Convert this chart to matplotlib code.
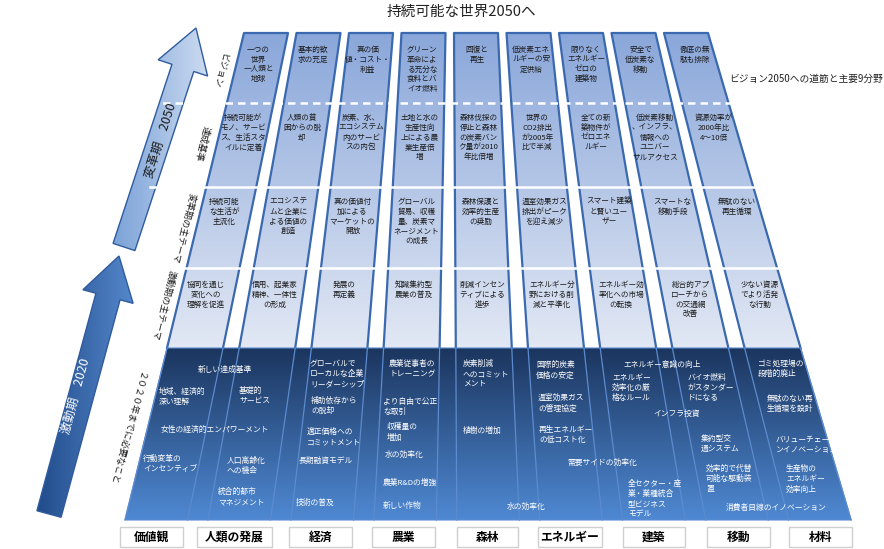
import numpy as np
import matplotlib
matplotlib.use('Agg')
import matplotlib.pyplot as plt
from matplotlib.patches import Polygon, Rectangle
from matplotlib.colors import LinearSegmentedColormap

plt.rcParams['font.family'] = ['Noto Sans CJK JP', 'DejaVu Sans']

# ---- content ----
title = '持続可能な世界2050へ'
subtitle = 'ビジョン2050への道筋と主要9分野'
sectors = ['価値観', '人類の発展', '経済', '農業', '森林', 'エネルギー', '建築', '移動', '材料']
row_labels = ['ビジョン', '達成基準', '変革期の主テーマ', '激動期の主テーマ', '２０２０年までに必要なこと']
arrow_labels = ['激動期　2020', '変革期　2050']

vision = ['一つの\n世界\n一人類と\n地球', '基本的欲\n求の充足', '真の価\n値・コスト・\n利益',
          'グリーン\n革命によ\nる充分な\n食料とバ\nイオ燃料', '回復と\n再生', '低炭素エネ\nルギーの安\n定供給',
          '限りなく\nエネルギー\nゼロの\n建築物', '安全で\n低炭素な\n移動', '徹底の無\n駄も排除']
targets = ['持続可能が\nモノ、サービ\nス、生活スタ\nイルに定着', '人類の貧\n困からの脱\n却',
           '炭素、水、\nエコシステム\n内のサービ\nスの内包', '土地と水の\n生産性向\n上による農\n業生産倍\n増',
           '森林伐採の\n停止と森林\nの炭素バン\nク量が2010\n年比倍増', '世界の\nCO2排出\nが2005年\n比で半減',
           '全ての新\n築物件が\nゼロエネ\nルギー', '低炭素移動\n、インフラ、\n情報への\nユニバー\nサルアクセス',
           '資源効率が\n2000年比\n4〜10倍']
themes_2050 = ['持続可能\nな生活が\n主流化', 'エコシステ\nムと企業に\nよる価値の\n創造', '真の価値付\n加による\nマーケットの\n開放',
               'グローバル\n貿易、収穫\n量、炭素マ\nネージメント\nの成長', '森林保護と\n効率的生産\nの奨励',
               '温室効果ガス\n排出がピーク\nを迎え減少', 'スマート建築\nと賢いユー\nザー', 'スマートな\n移動手段',
               '無駄のない\n再生循環']
themes_2020 = ['協同を通じ\n変化への\n理解を促進', '信用、起業家\n精神、一体性\nの形成', '発展の\n再定義',
               '知識集約型\n農業の普及', '削減インセン\nティブによる\n進歩', 'エネルギー分\n野における削\n減と平準化',
               'エネルギー効\n率化への市場\nの転換', '総合的アプ\nローチから\nの交通網\n改善', '少ない資源\nでより活発\nな行動']
needs_2020 = ['新しい達成基準', '地域、経済的\n深い理解', '基礎的\nサービス', '女性の経済的エンパワーメント',
              '行動変革の\nインセンティブ', '人口高齢化\nへの機会', '統合的都市\nマネジメント',
              'グローバルで\nローカルな企業\nリーダーシップ', '補助依存から\nの脱却', '適正価格への\nコミットメント',
              '長期融資モデル', '技術の普及', '農業従事者の\nトレーニング', 'より自由で公正\nな取引', '収穫量の\n増加',
              '水の効率化', '農業R&Dの増強', '新しい作物', '炭素削減\nへのコミット\nメント', '植樹の増加', '水の効率化',
              '国際的炭素\n価格の安定', '温室効果ガス\nの管理協定', '再生エネルギー\nの低コスト化', '需要サイドの効率化',
              'エネルギー意識の向上', 'エネルギー\n効率化の厳\n格なルール', 'インフラ投資',
              '全セクター・産\n業・業種統合\n型ビジネス\nモデル', 'バイオ燃料\nがスタンダー\nドになる', '集約型交\n通システム',
              '効率的で代替\n可能な駆動装\n置', '消費者目線のイノベーション', 'ゴミ処理場の\n段階的廃止',
              '無駄のない再\n生循環を設計', 'バリューチェー\nンイノベーション', '生産物の\nエネルギー\n効率向上']

# ---- layout (pixel coords, y down) ----
W, H = 884, 549
Y_TOP, Y_MID, Y_BOT = 33, 348, 520
needs_pos = [(198, 371), (159, 393), (239, 392), (161, 431), (143, 460), (227, 462), (218, 493),
             (310, 365), (311, 402), (307, 433), (299, 462), (296, 504),
             (389, 365), (383, 403), (387, 428), (385, 456), (383, 484), (383, 507),
             (463, 365), (463, 432), (507, 508),
             (536, 366), (538, 399), (539, 431), (568, 464),
             (623, 366), (612, 379), (653, 415), (628, 485),
             (688, 379), (701, 440), (706, 470), (726, 509),
             (758, 365), (767, 400), (776, 441), (786, 470)]
row_text_y = [46, 114, 198, 281]
side_pos = [(219, 70), (202, 143), (183, 228), (164, 305), (126, 428)]
box_x = [(120, 183), (197, 272), (289, 352), (372, 435), (457, 518), (538, 602), (623, 685), (707, 770), (789, 852)]


def col_edges(i):
    ct, cb = 266 + 52.5 * i, 195 + 72.2 * i
    return (ct - 22, cb - 28), (ct + 22, cb + 28)


def xat(edge, y):
    xt, xb = edge
    return xt + (xb - xt) * (y - Y_TOP) / (Y_MID - Y_TOP)


def grad_fill(ax, pts, c0, c1, extent, vertical=True, z=1):
    cmap = LinearSegmentedColormap.from_list('g', [c0, c1])
    patch = Polygon(pts, closed=True, fc='none', ec='none', zorder=z)
    ax.add_patch(patch)
    g = np.linspace(0, 1, 256)
    g = g.reshape(-1, 1) if vertical else g.reshape(1, -1)
    im = ax.imshow(g, cmap=cmap, extent=extent, aspect='auto', origin='upper',
                   interpolation='bilinear', zorder=z)
    im.set_clip_path(patch)


def arrow_poly(tail, tip, sw, hw, hl):
    t, p = np.array(tail, float), np.array(tip, float)
    u = (p - t) / np.hypot(*(p - t))
    n = np.array([-u[1], u[0]])
    b = p - u * hl
    return [t + n * sw / 2, b + n * sw / 2, b + n * hw / 2, p, b - n * hw / 2, b - n * sw / 2, t - n * sw / 2]


fig = plt.figure(figsize=(W / 100, H / 100), dpi=100)
ax = fig.add_axes([0, 0, 1, 1])
ax.axis('off')

# dark base region
left, right = col_edges(0)[0], col_edges(8)[1]
dark = [(xat(left, Y_MID), Y_MID), (xat(right, Y_MID), Y_MID), (xat(right, Y_BOT), Y_BOT), (xat(left, Y_BOT), Y_BOT)]
grad_fill(ax, dark, '#1b355e', '#4f89d3', (100, 870, Y_BOT, Y_MID), z=1)
ax.add_patch(Polygon(dark, closed=True, fc='none', ec='#5b8dd0', lw=0.8, zorder=2))

# columns
for i in range(9):
    le, re = col_edges(i)
    pts = [(xat(le, Y_TOP), Y_TOP), (xat(re, Y_TOP), Y_TOP), (xat(re, Y_MID), Y_MID), (xat(le, Y_MID), Y_MID)]
    grad_fill(ax, pts, '#8aa7da', '#e2e8f4', (100, 870, Y_MID, Y_TOP), z=1)
    ax.plot([xat(le, Y_MID), xat(le, Y_TOP), xat(re, Y_TOP), xat(re, Y_MID)],
            [Y_MID, Y_TOP, Y_TOP, Y_MID], color='#3a69b0', lw=1.6, zorder=3)
    for e in (le, re):
        ax.plot([xat(e, Y_MID), xat(e, Y_BOT)], [Y_MID, Y_BOT], color='#5c8bcf', lw=0.9, zorder=3)

# row separators
ax.plot([150, 830], [103, 103], color='white', lw=1.8, ls=(0, (3, 2)), zorder=4)
ax.plot([150, 830], [187, 187], color='white', lw=1.8, zorder=4)
ax.plot([150, 830], [268, 268], color='white', lw=1.8, zorder=4)

# column texts
for rows, y0 in zip([vision, targets, themes_2050, themes_2020], row_text_y):
    for i, txt in enumerate(rows):
        le, re = col_edges(i)
        ym = y0 + 20
        xc = (xat(le, ym) + xat(re, ym)) / 2
        ax.text(xc, y0, txt, fontsize=5.5, ha='center', va='top', multialignment='center',
                linespacing=1.3, color='#1a1a1a', zorder=5)

# dark region texts
for txt, (x, y) in zip(needs_2020, needs_pos):
    ax.text(x, y - 5, txt, fontsize=5.6, ha='left', va='top', linespacing=1.35, color='white', zorder=5)

# arrows
up = arrow_poly((124, 247), (196, 28), 23, 52, 42)
grad_fill(ax, up, '#6f9ad4', '#dfe8f6', (100, 230, 260, 20), vertical=False, z=2)
ax.add_patch(Polygon(up, closed=True, fc='none', ec='#2f5b9e', lw=1.0, zorder=3))
lo = arrow_poly((49, 514), (119, 256), 25, 52, 42)
grad_fill(ax, lo, '#1e4886', '#5d91d6', (30, 150, 520, 250), vertical=False, z=2)
ax.add_patch(Polygon(lo, closed=True, fc='none', ec='#2f5b9e', lw=1.0, zorder=3))
ax.text(76, 396, arrow_labels[0], fontsize=9, color='white', rotation=74.8, ha='center', va='center',
        rotation_mode='anchor', zorder=6)
ax.text(161, 140, arrow_labels[1], fontsize=9, color='#1a1a1a', rotation=72, ha='center', va='center',
        rotation_mode='anchor', zorder=6)

# side labels, reading downward along the fan's left edge
for lab, (x, y), rot in zip(row_labels, side_pos, [-104, -104, -104, -104, -105]):
    ax.text(x, y, lab, fontsize=6.5, rotation=rot, ha='center', va='center', rotation_mode='anchor',
            color='#1a1a1a', zorder=6)

# sector boxes
for lab, (x0, x1) in zip(sectors, box_x):
    ax.add_patch(Rectangle((x0, 527), x1 - x0, 20, fc='white', ec='#cfcfcf', lw=1.0, zorder=3))
    ax.text((x0 + x1) / 2, 537.5, lab, fontsize=8.5, fontweight='bold', ha='center', va='center', zorder=5)

ax.text(461, 12, title, fontsize=10.5, ha='center', va='center', color='#222222')
ax.text(729, 79, subtitle, fontsize=7, ha='left', va='center', color='#222222')

ax.set_xlim(0, W)
ax.set_ylim(H, 0)
fig.savefig('out.png', dpi=100)
